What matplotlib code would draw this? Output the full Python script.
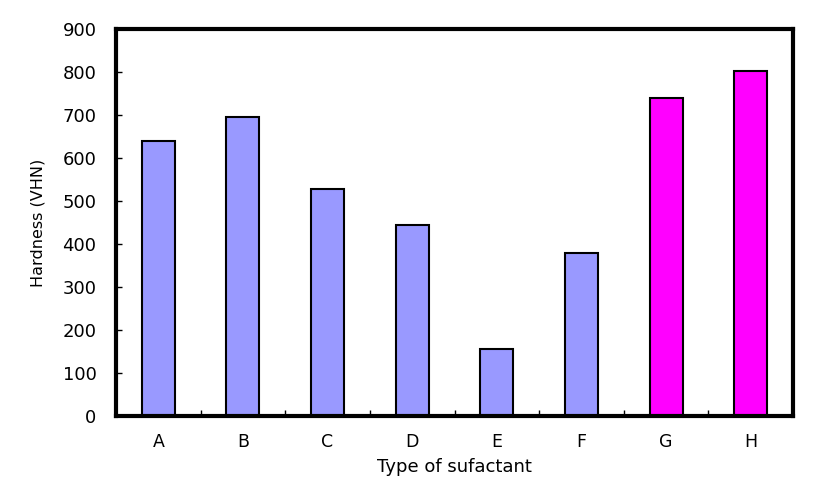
import numpy as np
import matplotlib
matplotlib.use("Agg")
import matplotlib.pyplot as plt

categories = ['A', 'B', 'C', 'D', 'E', 'F', 'G', 'H']
hardness = [640, 695, 528, 444, 156, 379, 740, 802]
bar_colors = ['#9999ff'] * 6 + ['#ff00ff'] * 2

plt.rcParams['font.family'] = ['DejaVu Sans']

fig = plt.figure(figsize=(8.27, 4.91), dpi=100)
ax = fig.add_axes([116 / 827, 1 - 416 / 491, (793 - 116) / 827, (416 - 29) / 491])

x = np.arange(len(categories))
ax.bar(x, hardness, width=0.39, color=bar_colors, edgecolor='black', linewidth=1.5)

ax.set_xlim(-0.5, len(categories) - 0.5)
ax.set_ylim(0, 900)
ax.set_yticks(np.arange(0, 901, 100))

# category labels centred under bars, ticks on the boundaries
ax.set_xticks(x)
ax.set_xticklabels(categories)
ax.set_xticks(np.arange(0.5, len(categories) - 1, 1), minor=True)
ax.tick_params(axis='x', which='major', length=0, pad=12, labelsize=12.5)
ax.tick_params(axis='x', which='minor', direction='in', length=4, width=1)
ax.tick_params(axis='y', direction='in', length=4, width=1, pad=14, labelsize=13)

for s in ax.spines.values():
    s.set_linewidth(3)

ax.set_xlabel('Type of sufactant', fontsize=13, labelpad=5)
ax.set_ylabel('Hardness (VHN)', fontsize=11.5, labelpad=12)

fig.savefig('out.png', dpi=100)
